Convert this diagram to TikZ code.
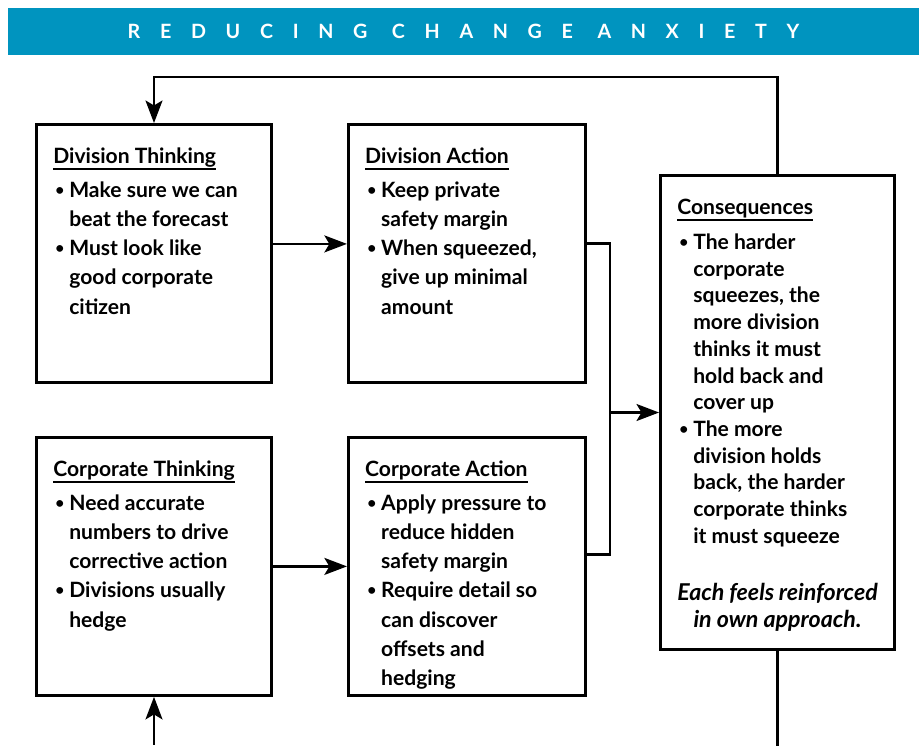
\documentclass[tikz,border=0pt]{standalone}
\usepackage{fontspec}
\setmainfont{Lato}
\usetikzlibrary{arrows.meta,positioning}

\definecolor{bannerblue}{HTML}{0094BF}

% underlined heading of a box
\newcommand{\boxhead}[1]{\leavevmode\rule{0pt}{0.97cm}\setbox0\hbox{#1}\rlap{\rule[-4.5pt]{\wd0}{1pt}}\box0\par\vspace{3.5pt}}
% one bullet, lines broken by hand
\newcommand{\bpoint}[1]{{\let\\\newline\noindent\hangindent=11.4pt\hangafter=1
  \hspace*{1.5pt}\makebox[9.9pt][l]{\raisebox{1.3pt}{\fontsize{11}{11}\selectfont\textbullet}}#1\par}}
% fixed size, top aligned box body
\newcommand{\panel}[3]{\parbox[c][#1][t]{#2}{#3}}

\begin{document}
\begin{tikzpicture}[x=0.025cm, y=-0.025cm,
  box/.style={draw, line width=2pt, inner xsep=0.42cm, inner ysep=0pt, font=\bfseries\fontsize{15}{20.75}\selectfont},
  flow/.style={line width=2pt, -{Stealth[length=16pt,width=12pt,inset=3.5pt]}},
  link/.style={line width=2pt},
  node distance=1.3cm and 1.85cm]

\useasboundingbox (0,0) rectangle (919,746);

\node[fill=bannerblue, minimum width=22.775cm, minimum height=1.175cm, text=white,
  font=\bfseries\fontsize{14}{14}\selectfont\addfontfeatures{LetterSpace=100}] (banner) at (463.5,31.5) {REDUCING CHANGE ANXIETY};

\node[box] (divthink) at (154,253.5) {\panel{6.45cm}{5.035cm}{%
  \boxhead{Division Thinking}
  \bpoint{Make sure we can\\beat the forecast}
  \bpoint{Must look like\\good corporate\\citizen}}};
\node[box, right=of divthink] (divact) {\panel{6.45cm}{5.085cm}{%
  \boxhead{Division Action}
  \bpoint{Keep private\\safety margin}
  \bpoint{When squeezed,\\give up minimal\\amount}}};
\node[box, below=of divthink] (corpthink) {\panel{6.45cm}{5.035cm}{%
  \boxhead{Corporate Thinking}
  \bpoint{Need accurate\\numbers to drive\\corrective action}
  \bpoint{Divisions usually\\hedge}}};
\node[box, right=of corpthink] (corpact) {\panel{6.45cm}{5.085cm}{%
  \boxhead{Corporate Action}
  \bpoint{Apply pressure to\\reduce hidden\\safety margin}
  \bpoint{Require detail so\\can discover\\offsets and\\hedging}}};
\node[box, font=\bfseries\fontsize{15}{19}\selectfont] (consq) at (777.5,412.5) {\panel{11.85cm}{5.01cm}{%
  \boxhead{Consequences}\vspace{2.5pt}
  \bpoint{The harder\\corporate\\squeezes, the\\more division\\thinks it must\\hold back and\\cover up}
  \bpoint{The more\\division holds\\back, the harder\\corporate thinks\\it must squeeze}
  \vspace{21pt}
  {\centering\itshape\fontsize{16.5}{19.5}\selectfont Each feels reinforced\\in own approach.\par}}};

\coordinate (merge) at (610,412.5);

\draw[flow] (consq.north) -- ++(0,-97) -| (divthink.north);
\draw[flow] ([yshift=0.24cm]divthink.east) -- ([yshift=0.24cm]divact.west);
\draw[flow] (corpthink.east) -- (corpact.west);
\draw[link] ([yshift=0.25cm]divact.east) -| (merge) |- ([yshift=0.3cm]corpact.east);
\draw[flow] (merge) -- (consq.west);
\draw[link] (consq.south) -- ++(0,95);
\draw[flow] ([yshift=-1.2cm]corpthink.south) -- (corpthink.south);
\end{tikzpicture}
\end{document}
